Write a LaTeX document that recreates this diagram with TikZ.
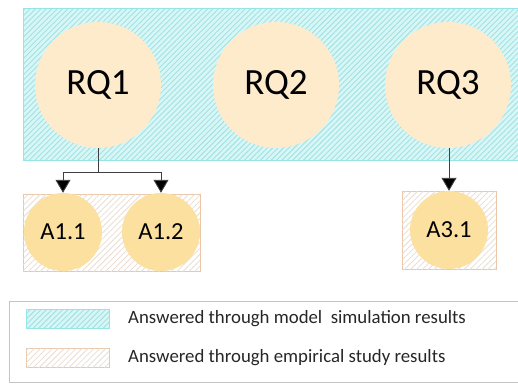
\documentclass[tikz,border=0pt]{standalone}
\usepackage{fontspec}
\setmainfont{Carlito}
\usetikzlibrary{arrows.meta,patterns.meta}
\definecolor{simfill}{HTML}{D8F6F6}
\definecolor{simline}{HTML}{A0E2E4}
\definecolor{simedge}{HTML}{92E6E8}
\definecolor{empline}{HTML}{EADDD2}
\definecolor{empedge}{HTML}{EBC6A8}
\definecolor{rqfill}{HTML}{FDEBCB}
\definecolor{afill}{HTML}{FBE0A0}
\definecolor{legedge}{HTML}{C4C4C4}
\definecolor{conn}{HTML}{404040}
\tikzset{
  simarea/.style={draw=simedge, line width=1pt, fill=simfill,
    postaction={pattern={Lines[angle=45,distance=3.8pt,line width=0.9pt]}, pattern color=simline}},
  emparea/.style={draw=empedge, line width=0.8pt, fill=white,
    postaction={pattern={Lines[angle=45,distance=4.2pt,line width=0.8pt]}, pattern color=empline}},
  rq/.style={circle, fill=rqfill, minimum size=126pt, inner sep=0pt, font=\fontsize{37}{42}\selectfont},
  ans/.style={circle, fill=afill, minimum size=78pt, inner sep=0pt, font=\fontsize{24.5}{28}\selectfont},
  link/.style={draw=conn, line width=0.9pt},
  arr/.style={link, -{Triangle[width=15pt,length=13pt,fill=black]}},
  legtext/.style={anchor=west, inner sep=0pt, font=\fontsize{18.8}{22}\selectfont, text=black!85},
}
\begin{document}
\begin{tikzpicture}[x=1pt,y=-1pt]
  \useasboundingbox (0,0) rectangle (518,383);
  % area of questions answered by simulation
  \path[simarea] (23,8) rectangle (518,160);
  % areas of answers from the empirical study
  \path[emparea] (23,194) rectangle (200,271);
  \path[emparea] (402,191) rectangle (496,269);

  \node[rq] (RQ1) at (98,85) {RQ1};
  \node[rq] (RQ2) at (276,85) {RQ2};
  \node[rq] (RQ3) at (448,85) {RQ3};

  \node[ans] (A11) at (63,232) {A1.1};
  \node[ans] (A12) at (161,232) {A1.2};
  \node[ans] (A31) at (449,230) {A3.1};

  \coordinate (split) at (98,172);
  \draw[link] (RQ1.south) -- (split);
  \draw[arr] (split) -| (A11.north);
  \draw[arr] (split) -| (A12.north);
  \draw[arr] (RQ3.south -| A31.north) -- (A31.north);

  % legend
  \node[draw=legedge, line width=1pt, minimum width=512pt, minimum height=81pt,
        anchor=north west, inner sep=0pt] (legend) at (9,301) {};
  \path[simarea, line width=0.8pt] (26,309) rectangle (109,328);
  \path[emparea] (26,348) rectangle (109,367);
  \node[legtext] (l1) at (128,319) {Answered through model\ \ simulation results};
  \node[legtext] (l2) at (128,358) {Answered through empirical study results};
\end{tikzpicture}
\end{document}
